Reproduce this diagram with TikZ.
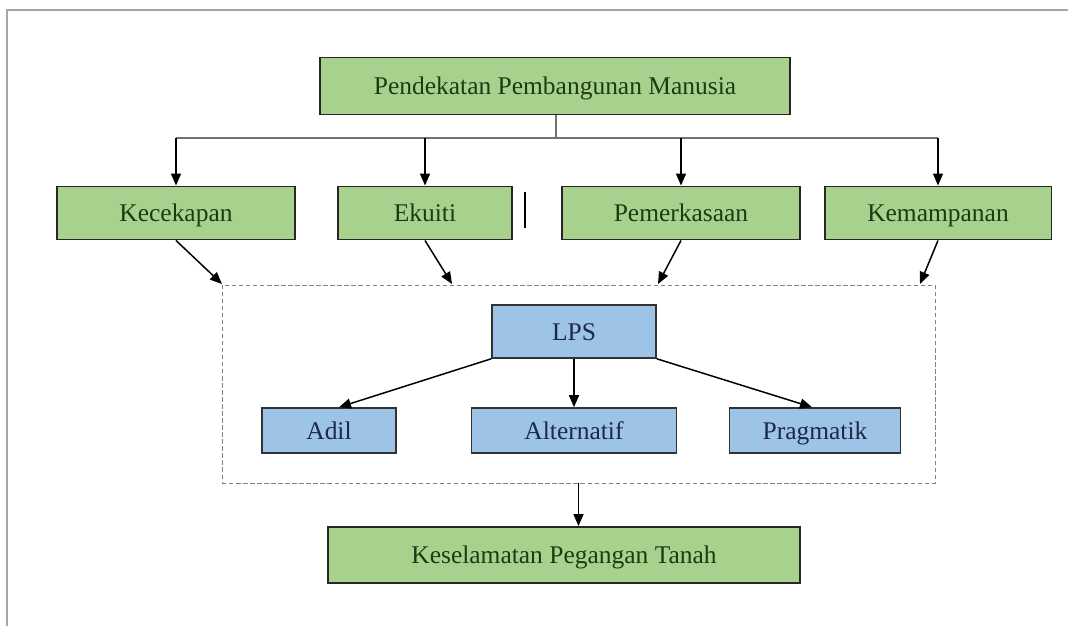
\documentclass[tikz,border=0pt]{standalone}
\usepackage{fontspec}
\setmainfont{Liberation Serif}
\usetikzlibrary{arrows.meta}

\definecolor{hijau}{HTML}{A9D18E}
\definecolor{biru}{HTML}{9DC3E6}
\definecolor{teksHijau}{HTML}{1D3B12}
\definecolor{teksBiru}{HTML}{1B2A48}

\begin{document}
\begin{tikzpicture}[
            x=0.02cm, y=-0.02cm,
            kotakH/.style ={draw=black!85, line width=1.1pt, fill=hijau, text=teksHijau,
                            font=\fontsize{14.5}{16}\selectfont, inner sep=0pt, minimum height=1.06cm,
                            text height=12pt, text depth=2pt},
            kotakB/.style ={draw=black!80, line width=0.9pt, fill=biru, text=teksBiru,
                            font=\fontsize{14.5}{16}\selectfont, inner sep=0pt, minimum height=0.9cm,
                            text height=12pt, text depth=2pt},
            panah/.style  ={-{Triangle[length=0.24cm, width=0.2cm]}, line width=0.85pt},
            garis/.style  ={draw=black!55, line width=0.6pt},
            zon/.style    ={draw=black!50, line width=0.5pt, dash pattern=on 2.5pt off 1.5pt}
        ]
            \useasboundingbox (0,0) rectangle (1068,626);
            %-----------------  Bingkai halaman  --------------------
            \draw[black!35, line width=1.2pt] (7,626) -- (7,10) -- (1068,10);

            %-----------------  Kotak atas  --------------------
            \node[kotakH, minimum width=9.4cm, minimum height=1.14cm] (pendekatan) at (555,86) {Pendekatan Pembangunan Manusia};

            %-----------------  Empat komponen  --------------------
            \node[kotakH, minimum width=4.76cm] (kecekapan)   at (176,213) {Kecekapan};
            \node[kotakH, minimum width=3.48cm] (ekuiti)      at (425,213) {Ekuiti};
            \node[kotakH, minimum width=4.76cm] (pemerkasaan) at (681,213) {Pemerkasaan};
            \node[kotakH, minimum width=4.54cm] (kemampanan)  at (938,213) {Kemampanan};
            \draw[line width=1pt] (525,192) -- (525,228);   % garis tegak kecil

            % Cabang dari kotak atas
            \coordinate (cabang) at (556,138);
            \draw[garis] (pendekatan.south -| cabang) -- (cabang);
            \draw[garis] (kecekapan.north |- cabang) -- (kemampanan.north |- cabang);
            \foreach \k in {kecekapan, ekuiti, pemerkasaan, kemampanan}
                \draw[panah] (\k.north |- cabang) -- (\k.north);

            %-----------------  Zon LPS (garis putus)  --------------------
            \node[zon, minimum width=14.26cm, minimum height=3.96cm] (lpszon) at (578.5,384) {};
            \coordinate (z1) at (222,284);
            \coordinate (z2) at (452,284);
            \coordinate (z3) at (658,284);
            \coordinate (z4) at (920,284);
            \draw[panah] (kecekapan.south)   -- (z1);
            \draw[panah] (ekuiti.south)      -- (z2);
            \draw[panah] (pemerkasaan.south) -- (z3);
            \draw[panah] (kemampanan.south)  -- (z4);

            \node[kotakB, minimum width=3.28cm, minimum height=1.06cm] (lps) at (574,331.5) {LPS};
            \node[kotakB, minimum width=2.68cm] (adil)       at (329,430.5) {Adil};
            \node[kotakB, minimum width=4.1cm]  (alternatif) at (574,430.5) {Alternatif};
            \node[kotakB, minimum width=3.42cm] (pragmatik)  at (815,430.5) {Pragmatik};

            \draw[panah] (lps.south west) -- ([xshift=0.2cm]adil.north);
            \draw[panah] (lps.south)      -- (alternatif.north);
            \draw[panah] (lps.south east) -- ([xshift=-0.06cm]pragmatik.north);

            %-----------------  Kotak bawah  --------------------
            \node[kotakH, minimum width=9.44cm, minimum height=1.12cm] (keselamatan) at (564,555) {Keselamatan Pegangan Tanah};
            \draw[panah] (lpszon.south) -- (lpszon.south |- keselamatan.north);
        \end{tikzpicture}
\end{document}
